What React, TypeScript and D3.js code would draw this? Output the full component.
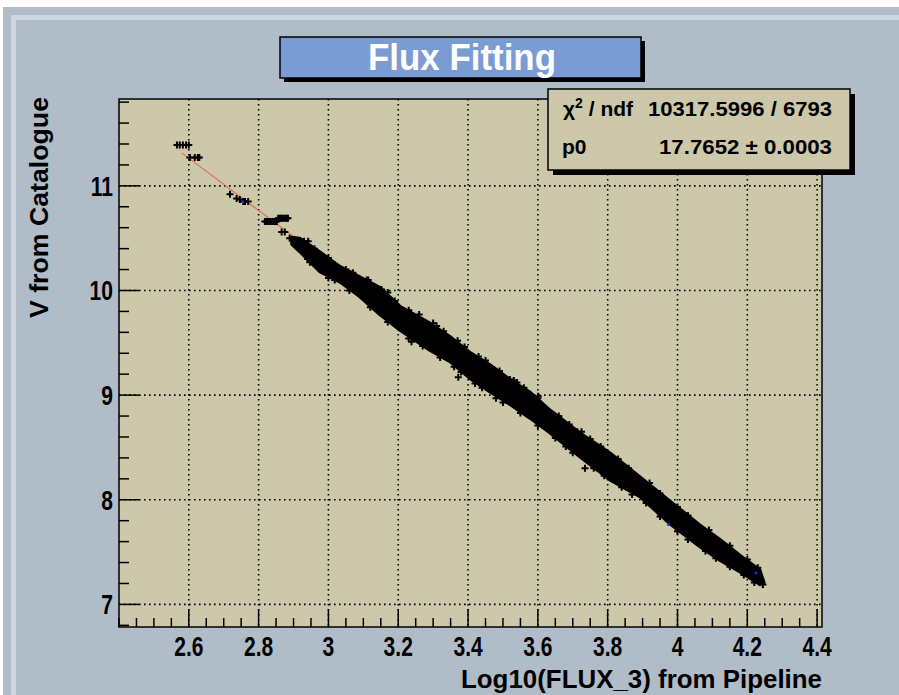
import React from "react";
import * as d3 from "d3";

// axis ticks
const xTicks = [2.6, 2.8, 3, 3.2, 3.4, 3.6, 3.8, 4, 4.2, 4.4];
const yTicks = [7, 8, 9, 10, 11];

// dense core of the scatter band
const bandX = [2.895, 2.918, 2.975, 3.033, 3.09, 3.147, 3.205, 3.29, 3.348, 3.405, 3.463, 3.52, 3.577, 3.634, 3.72, 3.806, 3.892, 3.978, 4.064, 4.122, 4.179, 4.236, 4.248];
const bandTop = [10.51, 10.5, 10.37, 10.23, 10.13, 10.03, 9.85, 9.69, 9.56, 9.41, 9.29, 9.15, 9.03, 8.86, 8.64, 8.45, 8.22, 7.99, 7.76, 7.62, 7.47, 7.33, 7.21];
const bandBottom = [10.44, 10.37, 10.18, 10.08, 9.94, 9.77, 9.62, 9.43, 9.32, 9.16, 9.03, 8.91, 8.78, 8.64, 8.41, 8.19, 8.03, 7.77, 7.55, 7.42, 7.31, 7.19, 7.21];

// isolated points and band edge points
const pointX = [
  2.566, 2.574, 2.583, 2.592, 2.6, 2.603, 2.617, 2.626, 2.63,
  2.718, 2.737, 2.746, 2.756, 2.761, 2.77,
  2.818, 2.822, 2.826, 2.831, 2.835, 2.84, 2.844, 2.848, 2.852,
  2.856, 2.861, 2.865, 2.869, 2.873, 2.878, 2.882, 2.884,
  2.866, 2.875, 2.889, 2.942, 2.947, 3.018, 3.114, 3.152,
  3.3, 3.238, 3.372, 3.505, 3.52, 3.531, 3.601, 3.601,
  3.713, 3.725, 3.766, 3.735, 3.844, 3.969,
  2.93, 2.96, 3.0, 3.05, 3.07, 3.11, 3.17, 3.19, 3.23, 3.26, 3.31, 3.33, 3.37, 3.39,
  3.43, 3.45, 3.49, 3.54, 3.56, 3.6, 3.66, 3.69, 3.75, 3.78, 3.83, 3.86, 3.92, 3.95,
  4.0, 4.03, 4.09, 4.15, 4.2, 4.23,
  2.94, 3.0, 3.06, 3.12, 3.17, 3.23, 3.27, 3.32, 3.36, 3.38, 3.42, 3.44, 3.48, 3.5,
  3.55, 3.6, 3.65, 3.68, 3.7, 3.76, 3.79, 3.84, 3.87, 3.91, 3.95, 4.0, 4.03, 4.08,
  4.11, 4.15, 4.19, 4.22, 4.245,
];
const pointY = [
  11.39, 11.39, 11.39, 11.39, 11.39, 11.27, 11.27, 11.27, 11.27,
  10.92, 10.88, 10.87, 10.85, 10.85, 10.85,
  10.66, 10.66, 10.66, 10.66, 10.66, 10.66, 10.66, 10.66, 10.66,
  10.69, 10.69, 10.69, 10.69, 10.69, 10.69, 10.69, 10.69,
  10.56, 10.56, 10.5, 10.47, 10.27, 10.1, 10.1, 10.01,
  9.69, 9.51, 9.17, 9.15, 9.15, 9.14, 8.99, 8.94,
  8.65, 8.65, 8.49, 8.3, 8.26, 7.95,
  10.47, 10.4, 10.31, 10.2, 10.17, 10.1, 9.98, 9.9, 9.81, 9.77, 9.66, 9.61, 9.52, 9.46,
  9.37, 9.33, 9.23, 9.12, 9.07, 8.97, 8.8, 8.72, 8.58, 8.51, 8.39, 8.3, 8.16, 8.06,
  7.93, 7.85, 7.71, 7.56, 7.43, 7.35,
  10.3, 10.12, 10.0, 9.84, 9.7, 9.54, 9.47, 9.36, 9.27, 9.22, 9.11, 9.07, 8.97, 8.93,
  8.83, 8.71, 8.59, 8.51, 8.45, 8.3, 8.23, 8.12, 8.05, 7.97, 7.84, 7.7, 7.62, 7.51,
  7.44, 7.36, 7.28, 7.21, 7.19,
];

// a few blue points
const blueX = [2.754, 3.973, 4.224];
const blueY = [10.85, 7.766, 7.303];

// fitted line ends
const fitX = [2.58, 4.245];
const fitY = [11.315, 7.153];

const statNames = ["p0"];
const statValues = ["10317.5996 / 6793", "17.7652 \u00b1 0.0003"];

const W = 899;
const H = 695;
const left = 119, right = 822, top = 99, bottom = 627;
const font = "'Liberation Sans', Arial, Helvetica, sans-serif";
const plotBg = "#cdc8aa";
const pageBg = "#b0bcc8";

export default function App() {
  const x = d3.scaleLinear().domain([2.4, 4.414]).range([left, right]);
  const y = d3.scaleLinear().domain([6.784, 11.83]).range([bottom, top]);

  const xMinor = d3.range(2.4, 4.414, 0.05);
  const yMinor = d3.range(6.8, 11.83, 0.2);

  const band = d3.area<number>()
    .x((_, i) => x(bandX[i]))
    .y0((_, i) => y(bandBottom[i]))
    .y1((_, i) => y(bandTop[i]))(bandX);

  const fitLine = d3.line<number>()
    .x((_, i) => x(fitX[i]))
    .y((_, i) => y(fitY[i]))(fitX);

  const cross = "M-3.5,0H3.5M0,-3.5V3.5";

  return (
    <svg width={W} height={H} style={{ position: "absolute", left: 0, top: 0 }} fontFamily={font}>
      <rect width={W} height={H} fill="#ffffff" />
      <rect x={3} y={7} width={W} height={H} fill={pageBg} />
      <rect x={11} y={15} width={W} height={5} fill="#cdd6de" />
      <rect x={11} y={15} width={5} height={H} fill="#cdd6de" />

      {/* plot area */}
      <rect x={left} y={top} width={right - left} height={bottom - top} fill={plotBg} />

      {/* grid */}
      <g stroke="#000" strokeWidth={1.6} strokeDasharray="1.6 3.4">
        {xTicks.map((t) => (
          <line key={"gx" + t} x1={x(t)} x2={x(t)} y1={top} y2={bottom} />
        ))}
        {yTicks.map((t) => (
          <line key={"gy" + t} x1={left} x2={right} y1={y(t)} y2={y(t)} />
        ))}
      </g>

      {/* fit line */}
      <path d={fitLine ?? ""} fill="none" stroke="#e06a66" strokeWidth={1.2} />

      {/* scatter */}
      <path d={band ?? ""} fill="#000" stroke="#000" strokeWidth={3} strokeLinejoin="round" />
      <g stroke="#000" strokeWidth={2}>
        {pointX.map((v, i) => (
          <path key={"p" + i} d={cross} transform={`translate(${x(v)},${y(pointY[i])})`} />
        ))}
      </g>
      <g fill="#1030ff">
        {blueX.map((v, i) => (
          <rect key={"b" + i} x={x(v) - 1} y={y(blueY[i]) - 1} width={2.5} height={2.5} />
        ))}
      </g>

      {/* ticks */}
      <g stroke="#000" strokeWidth={1.5}>
        {xMinor.map((t, i) => {
          const major = xTicks.some((m) => Math.abs(m - t) < 1e-6);
          return <line key={"tx" + i} x1={x(t)} x2={x(t)} y1={bottom} y2={bottom - (major ? 18 : 9)} />;
        })}
        {yMinor.map((t, i) => {
          const major = yTicks.some((m) => Math.abs(m - t) < 1e-6);
          return <line key={"ty" + i} x1={left} x2={left + (major ? 20 : 10)} y1={y(t)} y2={y(t)} />;
        })}
      </g>
      <rect x={left} y={top} width={right - left} height={bottom - top} fill="none" stroke="#000" strokeWidth={1.5} />

      {/* tick labels, slightly condensed like the original */}
      <g fontSize={27} fontWeight="bold" fill="#000">
        {xTicks.map((t) => (
          <text key={"lx" + t} transform={`translate(${x(t)},656) scale(0.78,1)`} textAnchor="middle">{String(t)}</text>
        ))}
        {yTicks.map((t) => (
          <text key={"ly" + t} transform={`translate(113,${y(t) + 10}) scale(0.78,1)`} textAnchor="end">{String(t)}</text>
        ))}
      </g>

      {/* axis titles */}
      <text x={822} y={688} textAnchor="end" fontSize={26} fontWeight="bold" textLength={361} lengthAdjust="spacingAndGlyphs">Log10(FLUX_3) from Pipeline</text>
      <text transform="translate(48,97) rotate(-90)" textAnchor="end" fontSize={26} fontWeight="bold" textLength={221} lengthAdjust="spacingAndGlyphs">V from Catalogue</text>

      {/* title box */}
      <rect x={284} y={41} width={361} height={41} fill="#000" />
      <rect x={280} y={37} width={361} height={41} fill="#7b9bd3" stroke="#000" strokeWidth={1.5} />
      <text x={462} y={70} textAnchor="middle" fontSize={36} fontWeight="bold" fill="#fff" textLength={188} lengthAdjust="spacingAndGlyphs">Flux Fitting</text>

      {/* stats box */}
      <rect x={553} y={94} width={302} height={81} fill="#000" />
      <rect x={548} y={89} width={302} height={81} fill={plotBg} stroke="#000" strokeWidth={1.5} />
      <g fontWeight="bold" fontSize={21} fill="#000">
        <text x={563} y={116}>
          {"\u03c7"}
          <tspan fontSize={14} dy={-8}>2</tspan>
          <tspan dy={8}>{" / ndf"}</tspan>
        </text>
        <text x={832} y={116} textAnchor="end" textLength={184} lengthAdjust="spacingAndGlyphs">{statValues[0]}</text>
        <text x={562} y={154}>{statNames[0]}</text>
        <text x={832} y={154} textAnchor="end" textLength={173} lengthAdjust="spacingAndGlyphs">{statValues[1]}</text>
      </g>
    </svg>
  );
}
